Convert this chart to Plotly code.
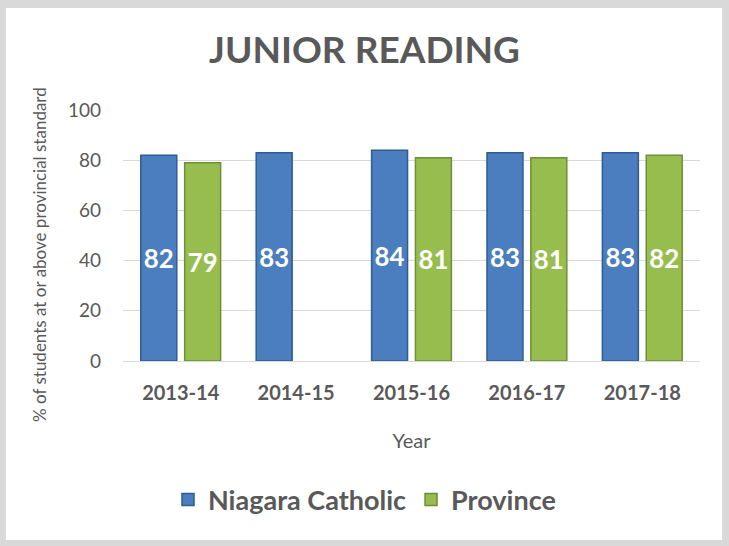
import plotly.graph_objects as go

years = ["2013-14", "2014-15", "2015-16", "2016-17", "2017-18"]
niagara = [82, 83, 84, 83, 83]
province = [79, None, 81, 81, 82]

W, H = 729, 546
L, R, T, B = 123, 29, 110, 185
FONT = "Lato, Calibri, Carlito, sans-serif"
GREY = "#595959"

def px_x(p):
    return (p - L) / (W - L - R)

def px_y(p):
    return (H - B - p) / (H - T - B)

fig = go.Figure()
fig.add_trace(go.Bar(
    name="Niagara Catholic", x=years, y=niagara,
    marker=dict(color="#4A7EBF", line=dict(color="#2F5C93", width=1.5)),
    text=[str(v) for v in niagara], textposition="inside",
    insidetextanchor="middle",
    textfont=dict(family=FONT, size=27, color="white", weight="bold"),
))
fig.add_trace(go.Bar(
    name="Province", x=years, y=province,
    marker=dict(color="#98BD4F", line=dict(color="#6E8F35", width=1.5)),
    text=["" if v is None else str(v) for v in province], textposition="inside",
    insidetextanchor="middle",
    textfont=dict(family=FONT, size=27, color="white", weight="bold"),
))

fig.update_layout(
    width=W, height=H,
    paper_bgcolor="#D9D9D9", plot_bgcolor="rgba(0,0,0,0)",
    margin=dict(l=L, r=R, t=T, b=B),
    barmode="group", bargap=0.24, bargroupgap=0.18,
    title=dict(text="<b>JUNIOR READING</b>", x=0.5, xref="container", xanchor="center",
               y=(H - 50) / H, yanchor="middle",
               font=dict(family=FONT, size=37, color=GREY)),
    font=dict(family=FONT, color=GREY),
    showlegend=True,
    legend=dict(orientation="h", x=0.5, xanchor="center", xref="container",
                y=(H - 500) / H, yanchor="middle", yref="container",
                font=dict(family=FONT, size=27, color=GREY, weight="bold"),
                itemwidth=30, traceorder="normal", bgcolor="rgba(0,0,0,0)"),
    shapes=[dict(type="rect", xref="paper", yref="paper",
                 x0=px_x(6), x1=px_x(722), y0=px_y(540), y1=px_y(8),
                 fillcolor="white", line=dict(width=0), layer="below")],
    annotations=[dict(text="% of students at or above provincial standard",
                      textangle=-90, xref="paper", yref="paper",
                      x=px_x(40), y=px_y(255), xanchor="center", yanchor="middle",
                      showarrow=False,
                      font=dict(family=FONT, size=17, color=GREY))],
)

fig.update_yaxes(range=[0, 100], dtick=20, showgrid=True, gridcolor="#D9D9D9",
                 gridwidth=1, zeroline=False, showline=False,
                 tickfont=dict(family=FONT, size=19, color=GREY), ticklabelstandoff=21)
fig.update_xaxes(showline=True, linecolor="#D9D9D9", linewidth=1,
                 tickfont=dict(family=FONT, size=20, color=GREY, weight="bold"),
                 ticklabelstandoff=14,
                 title=dict(text="Year", font=dict(family=FONT, size=20, color=GREY),
                            standoff=30))

fig.write_html("out.html", config={"displayModeBar": False},
               post_script="document.body.style.margin='0';document.body.style.padding='0';")
